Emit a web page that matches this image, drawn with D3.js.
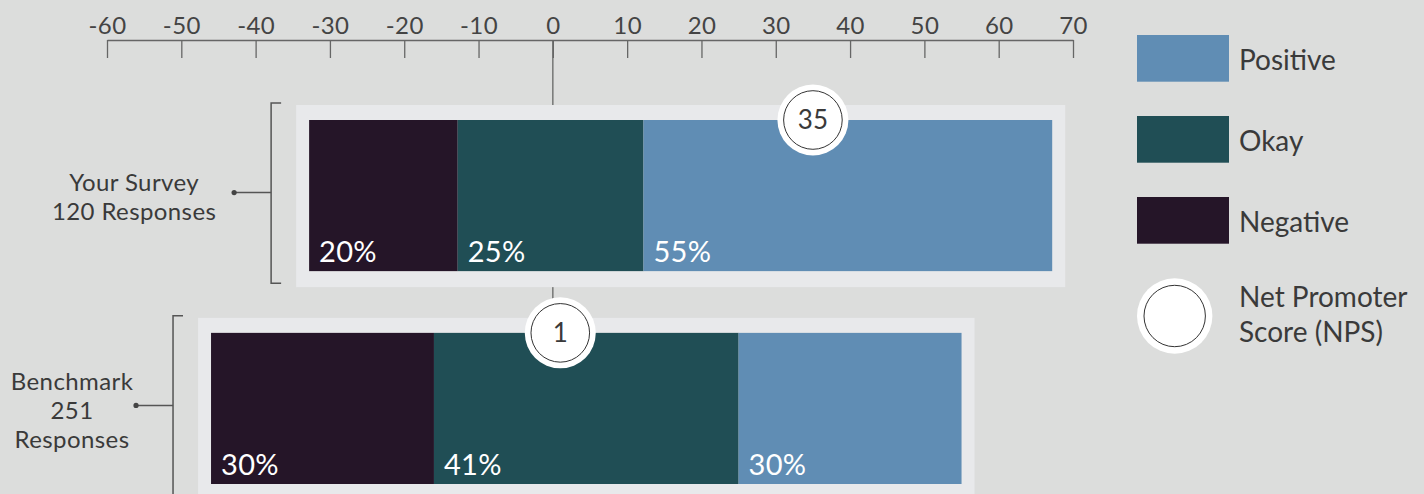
<!DOCTYPE html>
<html>
<head>
<meta charset="utf-8">
<script src="https://cdn.jsdelivr.net/npm/d3@7"></script>
<style>
  html, body { margin: 0; padding: 0; background: #dcdddc; }
  .canvas { width: 1424px; height: 494px; overflow: hidden; }
  text { font-family: Lato, "Open Sans", sans-serif; fill: #3a3a3a; }
  .axis text { font-size: 24px; fill: #444; letter-spacing: 0.4px; }
  .axis path, .axis line { stroke: #666; stroke-width: 1.3; }
</style>
</head>
<body>
<div class="canvas"></div>
<script>
// data
const rows = ["Your Survey", "Benchmark"];
const responses = [120, 251];
const negative = [20, 30];
const okay = [25, 41];
const positive = [55, 30];
const nps = [35, 1];
const barStart = [-32.8, -46]; // left edge of each bar on the score axis
const axisTicks = [-60, -50, -40, -30, -20, -10, 0, 10, 20, 30, 40, 50, 60, 70];
const rowLabels = [["Your Survey", responses[0] + " Responses"], ["Benchmark", String(responses[1]), "Responses"]];
const legendItems = ["Positive", "Okay", "Negative"];

const colors = { Positive: "#608db4", Okay: "#204e55", Negative: "#251528" };

const width = 1424;
const height = 494;

const svg = d3
  .select(".canvas")
  .append("svg")
  .attr("width", width)
  .attr("height", height);

svg.append("rect").attr("width", width).attr("height", height).attr("fill", "#dcdddc");

const x = d3.scaleLinear().domain([-60, 70]).range([107, 1073]);
const y = d3.scaleBand().domain(rows).range([120, 484]).paddingInner(0.29);

const axisY = 40;

// zero line, behind the panels
svg
  .append("line")
  .attr("x1", x(0))
  .attr("x2", x(0))
  .attr("y1", axisY)
  .attr("y2", height)
  .attr("stroke", "#666")
  .attr("stroke-width", 1.3);

svg
  .append("g")
  .attr("class", "axis")
  .attr("transform", `translate(0, ${axisY})`)
  .call(
    d3
      .axisTop(x)
      .tickValues(axisTicks)
      .tickFormat((d) => String(d))
      .tickSizeInner(-18)
      .tickSizeOuter(0)
      .tickPadding(6)
  )
  .call((g) => g.selectAll("text").attr("y", -6).attr("dy", "0"))
  .call((g) => g.select(".domain").attr("stroke", "#666"));

const data = rows.map((r, i) => {
  const segs = [
    { key: "Negative", value: negative[i] },
    { key: "Okay", value: okay[i] },
    { key: "Positive", value: positive[i] },
  ];
  let acc = barStart[i];
  segs.forEach((s) => {
    s.x0 = acc;
    acc += s.value;
    s.x1 = acc;
  });
  return { row: r, i, segs, start: barStart[i], end: acc, nps: nps[i] };
});

const row = svg
  .selectAll("g.row")
  .data(data)
  .enter()
  .append("g")
  .attr("class", "row");

// light panel behind each bar
row
  .append("rect")
  .attr("x", (d) => x(d.start) - 13)
  .attr("y", (d) => y(d.row) - 15)
  .attr("width", (d) => x(d.end) - x(d.start) + 26)
  .attr("height", y.bandwidth() + 31)
  .attr("fill", "#e8e9eb");

row
  .selectAll("rect.seg")
  .data((d) => d.segs.map((s) => ({ ...s, row: d.row })))
  .enter()
  .append("rect")
  .attr("class", "seg")
  .attr("x", (s) => x(s.x0))
  .attr("y", (s) => y(s.row))
  .attr("width", (s) => x(s.x1) - x(s.x0))
  .attr("height", y.bandwidth())
  .attr("fill", (s) => colors[s.key]);

row
  .selectAll("text.pct")
  .data((d) => d.segs.map((s) => ({ ...s, row: d.row })))
  .enter()
  .append("text")
  .attr("class", "pct")
  .attr("x", (s) => x(s.x0) + 10)
  .attr("y", (s) => y(s.row) + y.bandwidth() - 9)
  .style("fill", "#fff")
  .style("font-size", "29px")
  .style("letter-spacing", "0.3px")
  .text((s) => s.value + "%");

// NPS marker
const marker = row
  .append("g")
  .attr("transform", (d) => `translate(${x(d.nps)}, ${y(d.row)})`);
marker.append("circle").attr("r", 35.5).attr("fill", "#fff");
marker
  .append("circle")
  .attr("r", 29.3)
  .attr("fill", "#fff")
  .attr("stroke", "#333")
  .attr("stroke-width", 1);
marker
  .append("text")
  .attr("text-anchor", "middle")
  .attr("dy", "0.36em")
  .style("font-size", "26px")
  .text((d) => d.nps);

// bracket + label on the left
const labelGap = [100, 64];
row.each(function (d) {
  const g = d3.select(this);
  const top = y(d.row) - 15;
  const bottom = y(d.row) + y.bandwidth() + 16;
  const bx = x(d.start) - 13 - 25;
  const cy = y(d.row) + y.bandwidth() / 2 - 3;
  const dotX = bx - 37;

  g.append("path")
    .attr("d", `M${bx + 10},${top - 2}H${bx}V${bottom - 4}H${bx + 10}`)
    .attr("fill", "none")
    .attr("stroke", "#555")
    .attr("stroke-width", 1.5);
  g.append("line")
    .attr("x1", dotX)
    .attr("x2", bx)
    .attr("y1", cy)
    .attr("y2", cy)
    .attr("stroke", "#555")
    .attr("stroke-width", 1.5);
  g.append("circle").attr("cx", dotX).attr("cy", cy).attr("r", 2.6).attr("fill", "#444");

  const lines = rowLabels[d.i];
  const n = lines.length;
  g.append("text")
    .attr("text-anchor", "middle")
    .style("font-size", "24px")
    .style("letter-spacing", "0.4px")
    .selectAll("tspan")
    .data(lines)
    .enter()
    .append("tspan")
    .attr("x", dotX - labelGap[d.i])
    .attr("y", (l, k) => cy + 13.3 + (k - (n - 1) / 2) * 29)
    .text((l) => l);
});

// legend
const legend = svg.append("g").attr("transform", "translate(1137, 35)");
const legendItem = legend
  .selectAll("g")
  .data(legendItems)
  .enter()
  .append("g")
  .attr("transform", (d, i) => `translate(0, ${i * 81})`);
legendItem
  .append("rect")
  .attr("width", 92)
  .attr("height", 46.7)
  .attr("fill", (d) => colors[d]);
legendItem
  .append("text")
  .attr("x", 102)
  .attr("y", 23.3)
  .attr("dy", "0.4em")
  .style("font-size", "28px")
  .text((d) => d);

const npsKey = legend.append("g").attr("transform", "translate(37.7, 281)");
npsKey.append("circle").attr("r", 37.7).attr("fill", "#fff");
npsKey
  .append("circle")
  .attr("r", 30.7)
  .attr("fill", "#fff")
  .attr("stroke", "#333")
  .attr("stroke-width", 1);
npsKey
  .append("text")
  .style("font-size", "28px")
  .selectAll("tspan")
  .data(["Net Promoter", "Score (NPS)"])
  .enter()
  .append("tspan")
  .attr("x", 64.3)
  .attr("y", (d, i) => -8.7 + i * 34.4)
  .text((d) => d);
</script>
</body>
</html>
